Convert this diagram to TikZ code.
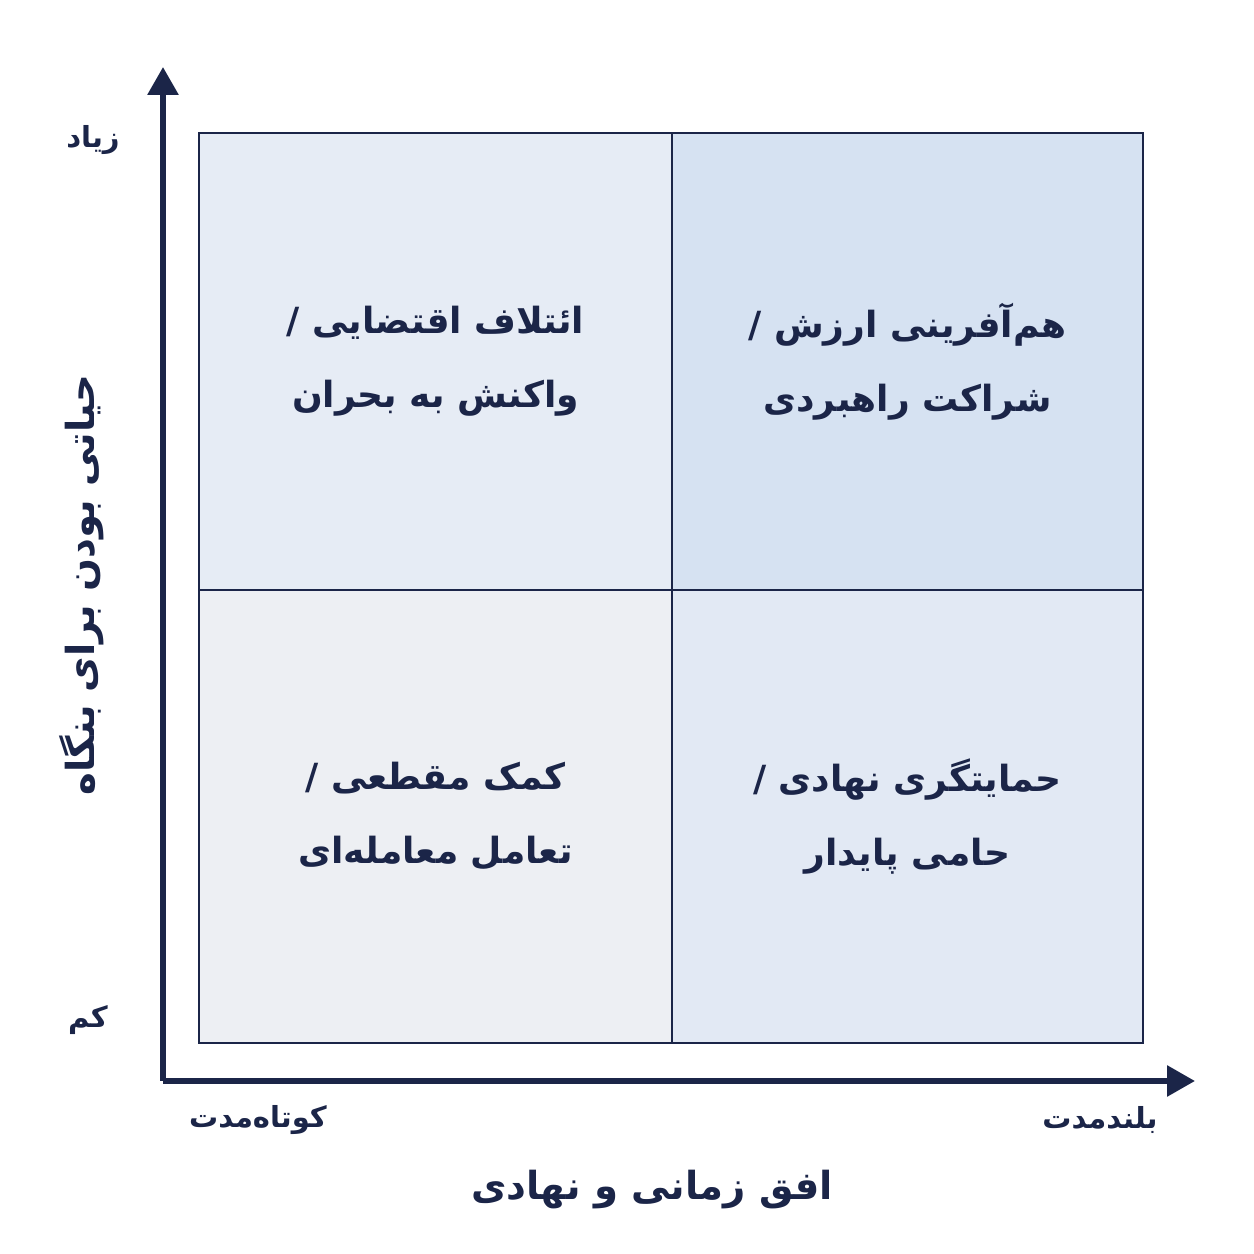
\documentclass[tikz,border=0pt]{standalone}
\usepackage{fontspec}
\usepackage{tikz}
\usetikzlibrary{positioning,arrows.meta}
\TeXXeTstate=1
\newfontfamily\farsi[Script=Arabic]{DejaVu Sans}
\definecolor{navy}{HTML}{1B2548}
\definecolor{cellTL}{HTML}{E6ECF5}
\definecolor{cellTR}{HTML}{D6E2F2}
\definecolor{cellBL}{HTML}{EDEFF3}
\definecolor{cellBR}{HTML}{E2E9F4}
\newcommand*{\fa}[1]{\beginR #1\endR}
\tikzset{axis/.style={draw=navy, line width=3.4pt, -{Triangle[length=0.56cm,width=0.6cm]}}}
\tikzset{cell/.style={rectangle, draw=navy, line width=1.1pt, inner sep=0pt, outer sep=0pt, anchor=south west,
  text=navy, align=center, font=\farsi\bfseries\fontsize{20.5}{42}\selectfont}}
\tikzset{ticklabel/.style={text=navy, font=\farsi\bfseries\fontsize{16.5}{20}\selectfont}}
\tikzset{axistitle/.style={text=navy, font=\farsi\bfseries\fontsize{22}{26}\selectfont}}

\begin{document}
\begin{tikzpicture}
		\useasboundingbox (-3.26,-3.46) rectangle (21.82,21.62);
		\coordinate (O) at (0,0);
		\coordinate (xtip) at (20.64,0);
		\coordinate (ytip) at (0,20.28);
		% quadrants
		\node[cell, fill=cellBL, minimum width=9.46cm, minimum height=9.06cm] (lowshort) at (0.72,0.76) {\fa{کمک مقطعی /}\\\fa{تعامل معامله^^^^200cای}};
		\node[cell, fill=cellBR, minimum width=9.42cm, minimum height=9.06cm] (lowlong) at (10.18,0.76) {\fa{حمایتگری نهادی /}\\\fa{حامی پایدار}};
		\node[cell, fill=cellTL, minimum width=9.46cm, minimum height=9.14cm] (highshort) at (0.72,9.82) {\fa{ائتلاف اقتضایی /}\\\fa{واکنش به بحران}};
		\node[cell, fill=cellTR, minimum width=9.42cm, minimum height=9.14cm] (highlong) at (10.18,9.82) {\fa{هم^^^^200cآفرینی ارزش /}\\\fa{شراکت راهبردی}};
		% axes
		\draw[axis] (O) -- (xtip);
		\draw[axis] (O) -- (ytip);
		\node[ticklabel] (high) at (-1.4,18.82) {\fa{زیاد}};
		\node[ticklabel] (low) at (-1.5,1.22) {\fa{کم}};
		\node[ticklabel] (short) at (1.9,-0.78) {\fa{کوتاه^^^^200cمدت}};
		\node[ticklabel] (long) at (18.74,-0.78) {\fa{بلندمدت}};
		\node[axistitle] (xtitle) at (9.78,-2.18) {\fa{افق زمانی و نهادی}};
		\node[axistitle, rotate=90] (ytitle) at (-1.62,9.92) {\fa{حیاتی بودن برای بنگاه}};
	\end{tikzpicture}
\end{document}
